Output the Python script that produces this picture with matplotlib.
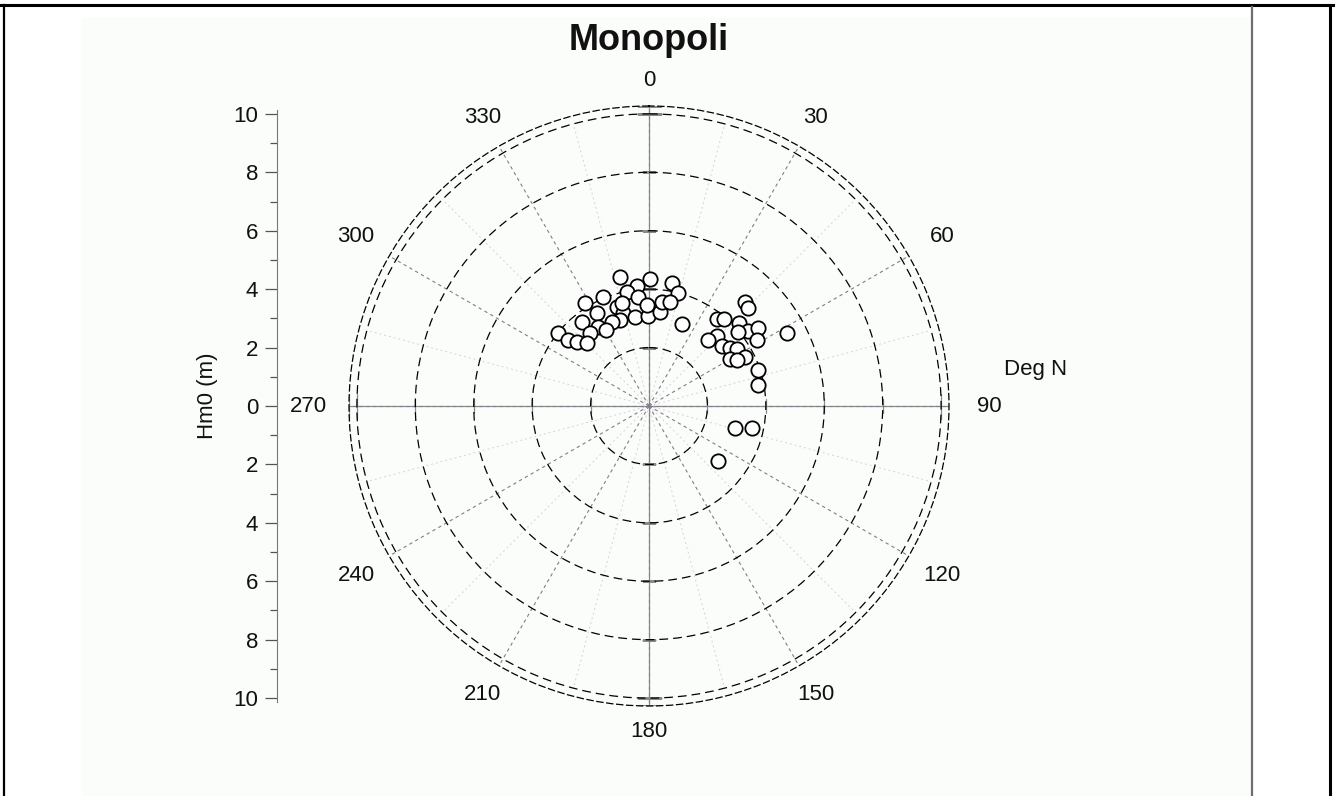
import numpy as np
import matplotlib.pyplot as plt
from matplotlib.patches import Rectangle
from matplotlib.lines import Line2D

# wave direction (deg N) and significant wave height Hm0 (m)
direction = [347.3, 0.5, 10.6, 14.4, 354.3, 349.1, 354.2, 337.1, 328.1, 330.8,
             342.1, 344.4, 351.1, 359.4, 6.7, 7.1, 11.4, 358.9, 321.4, 327.2,
             321.1, 308.7, 309.2, 311.6, 315.5, 21.9, 341.4, 336.2, 345.3, 330.5,
             42.7, 45.3, 38.0, 40.8, 47.3, 52.9, 54.4, 44.2, 41.8, 50.6,
             54.4, 57.1, 58.6, 62.1, 59.9, 63.0, 62.4, 71.7, 79.1, 104.3,
             102.1, 128.6, 50.3]
hm0 = [4.53, 4.35, 4.28, 4.00, 4.13, 3.98, 3.75, 4.05, 4.15, 3.65,
       3.56, 3.31, 3.09, 3.08, 3.24, 3.59, 3.63, 3.46, 3.68, 3.22,
       3.21, 4.00, 3.58, 3.30, 3.03, 3.03, 3.11, 3.14, 3.65, 2.99,
       4.85, 4.77, 3.78, 3.93, 4.19, 4.25, 4.59, 3.34, 3.03, 3.24,
       3.41, 3.59, 4.33, 5.35, 3.21, 3.69, 3.40, 3.93, 3.80, 3.04,
       3.61, 3.02, 3.96]

angle_ticks = list(range(0, 360, 30))
ring_levels = [2, 4, 6, 8, 10]
hm0_ticks = list(range(-10, 11, 2))
R_MAX = 10.27

W, H = 1338, 796
fig = plt.figure(figsize=(W / 100, H / 100), dpi=100)
plt.rcParams['font.family'] = ['Liberation Sans', 'DejaVu Sans']

# page background and table frame
fig.patches.append(Rectangle((82 / W, 0), (1251 - 82) / W, 1 - 18 / H,
                             transform=fig.transFigure, color='#fbfdfa', zorder=-10))
for xs, ys, c, lw in [([0, 1333 / W], [1 - 5 / H] * 2, 'black', 2.2),
                      ([4 / W] * 2, [0, 1 - 5 / H], 'black', 1.6),
                      ([1330 / W] * 2, [0, 1 - 5 / H], 'black', 2.2),
                      ([1252 / W] * 2, [0, 1 - 7 / H], '#6e6e6e', 1.6)]:
    fig.add_artist(Line2D(xs, ys, transform=fig.transFigure, color=c, lw=lw))

# polar plot
ax = fig.add_axes([349 / W, 90 / H, 600 / W, 600 / H], projection='polar')
ax.set_facecolor('none')
ax.set_theta_zero_location('N')
ax.set_theta_direction(-1)
ax.set_ylim(0, R_MAX)
ax.spines['polar'].set_linestyle((0, (5, 3)))
ax.spines['polar'].set_linewidth(0.9)

ax.set_rticks(ring_levels)
ax.set_yticklabels([])
ax.yaxis.grid(True, color='black', linestyle=(0, (7, 4)), linewidth=0.9)
ax.set_xticks(np.deg2rad(angle_ticks))
ax.set_xticklabels([])
ax.xaxis.grid(True, color='#857a8a', linestyle=(0, (3, 3)), linewidth=0.8)
ax.tick_params(axis='both', length=0)

# light intermediate radials every 15 deg
for a in range(15, 360, 30):
    t = np.deg2rad(a)
    ax.plot([t, t], [0, 10], color='#d4d4d4', ls=(0, (2, 3)), lw=0.7, zorder=1)

# main cross axes with ticks at each ring
for a in [0, 90, 180, 270]:
    t = np.deg2rad(a)
    ax.plot([t, t], [0, R_MAX], color='#8a8a8a', lw=0.9, zorder=1.5)
    mk = '_' if a in (0, 180) else '|'
    ax.plot([t] * 4, ring_levels[:4], mk, color='#8a8a8a', ms=10, mew=0.9, zorder=1.5)
    ax.plot([t, t], [10, R_MAX], mk, color='#8a8a8a', ms=18, mew=0.9, zorder=1.5)

# angle labels
for a in angle_ticks:
    t = np.deg2rad(a)
    r = 11.15 + 0.5 * abs(np.sin(t))
    ax.text(t, r, str(a), ha='center', va='center', fontsize=16, color='#111111')

ax.plot(np.deg2rad(direction), hm0, 'o', ls='none', mfc='white', mec='black',
        ms=10.3, mew=1.3, zorder=3)

# left Hm0 scale
ax2 = fig.add_axes([277 / W, 90 / H, 0.0005, 600 / H])
ax2.set_facecolor('none')
ax2.set_ylim(-R_MAX, R_MAX)
for s in ['top', 'right', 'bottom']:
    ax2.spines[s].set_visible(False)
ax2.spines['left'].set_color('#777777')
ax2.spines['left'].set_bounds(-10.15, 10.15)
ax2.set_xticks([])
ax2.set_yticks(hm0_ticks)
ax2.set_yticklabels([str(abs(v)) for v in hm0_ticks])
ax2.set_yticks(list(range(-9, 10, 2)), minor=True)
ax2.tick_params(axis='y', which='major', length=8.5, width=0.9, color='#555555',
                pad=5, labelsize=16, labelcolor='#111111')
ax2.tick_params(axis='y', which='minor', length=5, width=0.9, color='#555555')

fig.text(208 / W, 1 - 396 / H, 'Hm0 (m)', rotation=90, ha='center', va='center',
         fontsize=16, color='#111111')
fig.text(1004 / W, 1 - 370 / H, 'Deg N', ha='left', va='center', fontsize=16,
         color='#111111')
fig.text(649 / W, 1 - 40 / H, 'Monopoli', ha='center', va='center', fontsize=26,
         fontweight='bold', color='#111111')

fig.savefig('out.png', dpi=100)
